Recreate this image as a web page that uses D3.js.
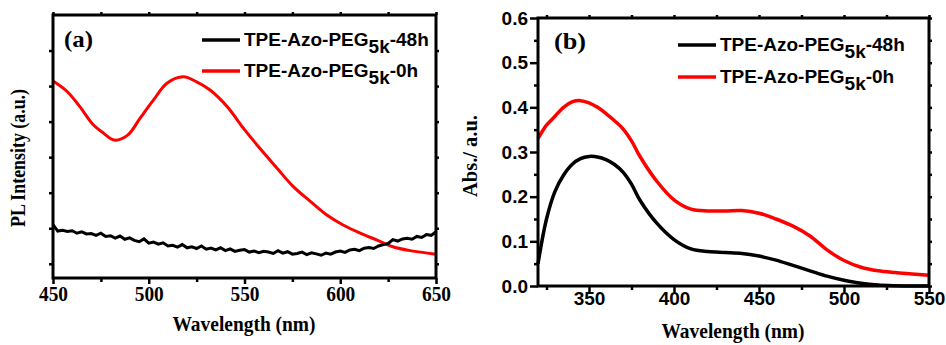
<!DOCTYPE html>
<html>
<head>
<meta charset="utf-8">
<script src="https://cdn.jsdelivr.net/npm/d3@7/dist/d3.min.js"></script>
<style>
    body { margin: 0; background: #fff; }
    svg  { display: block; }
    .serif { font-family: "Liberation Serif", "Times New Roman", serif; font-weight: bold; }
    .sans  { font-family: "Liberation Sans", Arial, sans-serif; font-weight: bold; }
</style>
</head>
<body>
<script>
// (a) PL spectra, arbitrary intensity units
const wavelengthA0h = [450, 457.5, 464, 471, 476.5, 482, 489, 495.5, 502.5, 509.5, 518, 525, 532,
                       541, 549.5, 558, 567, 575.5, 584.5, 593, 601.5, 610.5, 619, 627.5, 636.5, 650];
const plIntensity0h = [514, 484, 442, 391, 367, 348, 362, 410, 461, 508, 526, 512, 489,
                       442, 381, 325, 269, 217, 175, 137, 109, 86, 67, 48, 37, 27];

const wavelengthA48h = [450, 452.5, 455, 457.5, 460, 462.5, 465, 467.5, 470, 472.5, 475, 477.5,
                        480, 482.5, 485, 487.5, 490, 492.5, 495, 497.5, 500, 502.5, 505, 507.5,
                        510, 512.5, 515, 517.5, 520, 522.5, 525, 527.5, 530, 532.5, 535, 537.5,
                        540, 542.5, 545, 547.5, 550, 552.5, 555, 557.5, 560, 562.5, 565, 567.5,
                        570, 572.5, 575, 577.5, 580, 582.5, 585, 587.5, 590, 592.5, 595, 597.5,
                        600, 602.5, 605, 607.5, 610, 612.5, 615, 617.5, 620, 622.5, 625, 627.5,
                        630, 632.5, 635, 637.5, 640, 642.5, 645, 647.5, 650];
const plIntensity48h = [110, 92, 94, 91, 93, 86, 90, 84, 85, 80, 86, 77,
                        79, 72, 78, 69, 73, 66, 62, 70, 58, 61, 55, 59,
                        50, 52, 47, 54, 45, 48, 43, 50, 41, 44, 39, 45,
                        37, 42, 35, 38, 40, 33, 36, 31, 35, 33, 29, 37,
                        30, 34, 27, 29, 33, 26, 31, 28, 24, 30, 27, 33,
                        36, 32, 39, 41, 37, 44, 46, 43, 50, 54, 57, 68,
                        64, 70, 72, 69, 77, 74, 82, 80, 90];

const xTicksA      = [450, 500, 550, 600, 650];
const xMinorTicksA = [475, 525, 575, 625];
const yTicksA      = [0, 100, 200, 300, 400, 500, 600];

// (b) absorption spectra
const wavelengthB = [320, 325, 330, 335, 340, 345, 350, 355, 360, 365, 370, 375, 380, 390, 400,
                     410, 420, 430, 440, 450, 460, 470, 480, 490, 500, 510, 520, 530, 540, 550];
const abs0h  = [0.33, 0.36, 0.38, 0.40, 0.412, 0.415, 0.41, 0.40, 0.386, 0.37, 0.352, 0.325, 0.29, 0.234, 0.193,
                0.172, 0.168, 0.168, 0.169, 0.163, 0.150, 0.134, 0.112, 0.081, 0.057, 0.042, 0.034, 0.030, 0.027, 0.024];
const abs48h = [0.05, 0.15, 0.212, 0.248, 0.272, 0.285, 0.290, 0.289, 0.283, 0.272, 0.255, 0.228, 0.192, 0.140, 0.104,
                0.083, 0.077, 0.075, 0.073, 0.067, 0.058, 0.046, 0.034, 0.022, 0.013, 0.006, 0.002, 0.0005, 0, 0];

const xTicksB      = [350, 400, 450, 500, 550];
const xMinorTicksB = [325, 375, 425, 475, 525];
const yTicksB      = [0, 0.1, 0.2, 0.3, 0.4, 0.5, 0.6];
const yMinorTicksB = [0.05, 0.15, 0.25, 0.35, 0.45, 0.55];

const seriesNames = ['48h', '0h'];
const seriesColors = ['#000000', '#ff0000'];

let svg = d3.select('body')
    .append('svg')
    .attr('width', 946)
    .attr('height', 345);

function drawAxes (g, x, y, box, opts) {
    // minor ticks first, then majors, then frame on top
    g.append('g')
        .attr('transform', `translate(0,${box.bottom})`)
        .call(d3.axisBottom(x).tickValues(opts.xMinor).tickSize(4).tickFormat(''));
    g.append('g')
        .attr('transform', `translate(0,${box.top})`)
        .call(d3.axisTop(x).tickValues(opts.xMajor.concat(opts.xMinor)).tickSize(3).tickFormat(''));
    g.append('g')
        .attr('transform', `translate(${box.right},0)`)
        .call(d3.axisRight(y).tickValues(opts.yMajor.concat(opts.yMinor || [])).tickSize(3).tickFormat(''));
    if (opts.yMinor) {
        g.append('g')
            .attr('transform', `translate(${box.left},0)`)
            .call(d3.axisLeft(y).tickValues(opts.yMinor).tickSize(4).tickFormat(''));
    }

    let xAxis = g.append('g')
        .attr('class', opts.xFont)
        .attr('transform', `translate(0,${box.bottom})`)
        .call(d3.axisBottom(x).tickValues(opts.xMajor).tickSize(6).tickPadding(opts.xPad).tickFormat(d3.format('d')));
    xAxis.selectAll('text').attr('font-size', opts.xFontSize).attr('fill', '#000');
    if (opts.xLabelWidth) {
        xAxis.selectAll('text')
            .attr('textLength', opts.xLabelWidth)
            .attr('lengthAdjust', 'spacingAndGlyphs');
    }

    let yAxis = g.append('g')
        .attr('class', 'sans')
        .attr('transform', `translate(${box.left},0)`)
        .call(d3.axisLeft(y).tickValues(opts.yMajor).tickSize(opts.yTickSize).tickPadding(2)
            .tickFormat(opts.yFormat || ''));
    yAxis.selectAll('text').attr('font-size', 19).attr('fill', '#000');

    g.selectAll('.domain').remove();
    g.selectAll('.tick line').attr('stroke', '#000').attr('stroke-width', 2.5);

    g.append('rect')
        .attr('x', box.left)
        .attr('y', box.top)
        .attr('width', box.right - box.left)
        .attr('height', box.bottom - box.top)
        .attr('fill', 'none')
        .attr('stroke', '#000')
        .attr('stroke-width', 3);
}

function drawLegend (g, x0, y0, dy) {
    seriesNames.forEach((name, i) => {
        let yy = y0 + i * dy;
        g.append('line')
            .attr('x1', x0).attr('x2', x0 + 38)
            .attr('y1', yy).attr('y2', yy)
            .attr('stroke', seriesColors[i])
            .attr('stroke-width', 3.5);
        let t = g.append('text')
            .attr('class', 'sans')
            .attr('x', x0 + 42)
            .attr('y', yy + 6)
            .attr('font-size', 19);
        t.append('tspan').text('TPE-Azo-PEG');
        t.append('tspan').attr('dy', 7).text('5k');
        t.append('tspan').attr('dy', -7).text('-' + name);
    });
}

function axisTitle (g, x, y, text, width) {
    return g.append('text')
        .attr('class', 'serif')
        .attr('x', x).attr('y', y)
        .attr('text-anchor', 'middle')
        .attr('font-size', 21)
        .attr('textLength', width)
        .attr('lengthAdjust', 'spacingAndGlyphs')
        .text(text);
}

// ---------- panel (a)
let boxA = { left: 53, right: 436, top: 15, bottom: 278 };
let xA = d3.scaleLinear().domain([450, 650]).range([boxA.left, boxA.right]);
let yA = d3.scaleLinear().domain([-40, 700]).range([boxA.bottom, boxA.top]);
let gA = svg.append('g');

let lineA = d3.line()
    .x(d => xA(d[0]))
    .y(d => yA(d[1]));

gA.append('path')
    .datum(d3.zip(wavelengthA0h, plIntensity0h))
    .attr('d', lineA.curve(d3.curveCatmullRom))
    .attr('fill', 'none')
    .attr('stroke', seriesColors[1])
    .attr('stroke-width', 3);

gA.append('path')
    .datum(d3.zip(wavelengthA48h, plIntensity48h))
    .attr('d', lineA.curve(d3.curveLinear))
    .attr('fill', 'none')
    .attr('stroke', seriesColors[0])
    .attr('stroke-width', 3);

drawAxes(gA, xA, yA, boxA, {
    xMajor: xTicksA, xMinor: xMinorTicksA, yMajor: yTicksA,
    yTickSize: 4, xFont: 'serif', xFontSize: 21, xPad: 2, xLabelWidth: 29
});

gA.append('text')
    .attr('class', 'serif')
    .attr('x', 64).attr('y', 47)
    .attr('font-size', 24)
    .attr('textLength', 29)
    .attr('lengthAdjust', 'spacingAndGlyphs')
    .text('(a)');

drawLegend(gA, 202, 40, 31);

axisTitle(gA, 244, 331, 'Wavelength (nm)', 143);

gA.append('text')
    .attr('class', 'serif')
    .attr('transform', 'translate(25,158) rotate(-90)')
    .attr('text-anchor', 'middle')
    .attr('font-size', 20)
    .attr('textLength', 138)
    .attr('lengthAdjust', 'spacingAndGlyphs')
    .text('PL Intensity (a.u.)');

// ---------- panel (b)
let boxB = { left: 538, right: 929, top: 18, bottom: 286 };
let xB = d3.scaleLinear().domain([320, 550]).range([boxB.left, boxB.right]);
let yB = d3.scaleLinear().domain([0, 0.6]).range([boxB.bottom, boxB.top]);
let gB = svg.append('g');

let lineB = d3.line()
    .x(d => xB(d[0]))
    .y(d => yB(d[1]))
    .curve(d3.curveCatmullRom);

gB.append('path')
    .datum(d3.zip(wavelengthB, abs48h))
    .attr('d', lineB)
    .attr('fill', 'none')
    .attr('stroke', seriesColors[0])
    .attr('stroke-width', 3.5);

gB.append('path')
    .datum(d3.zip(wavelengthB, abs0h))
    .attr('d', lineB)
    .attr('fill', 'none')
    .attr('stroke', seriesColors[1])
    .attr('stroke-width', 3.5);

drawAxes(gB, xB, yB, boxB, {
    xMajor: xTicksB, xMinor: xMinorTicksB, yMajor: yTicksB, yMinor: yMinorTicksB,
    yTickSize: 8, xFont: 'sans', xFontSize: 19, xPad: 0, yFormat: d3.format('.1f')
});

gB.append('text')
    .attr('class', 'serif')
    .attr('x', 554).attr('y', 49)
    .attr('font-size', 24)
    .attr('textLength', 32)
    .attr('lengthAdjust', 'spacingAndGlyphs')
    .text('(b)');

drawLegend(gB, 678, 45, 32);

axisTitle(gB, 733, 338, 'Wavelength (nm)', 143);

gB.append('text')
    .attr('class', 'serif')
    .attr('transform', 'translate(477,156) rotate(-90)')
    .attr('text-anchor', 'middle')
    .attr('font-size', 20)
    .attr('textLength', 82)
    .attr('lengthAdjust', 'spacingAndGlyphs')
    .text('Abs./ a.u.');
</script>
</body>
</html>
